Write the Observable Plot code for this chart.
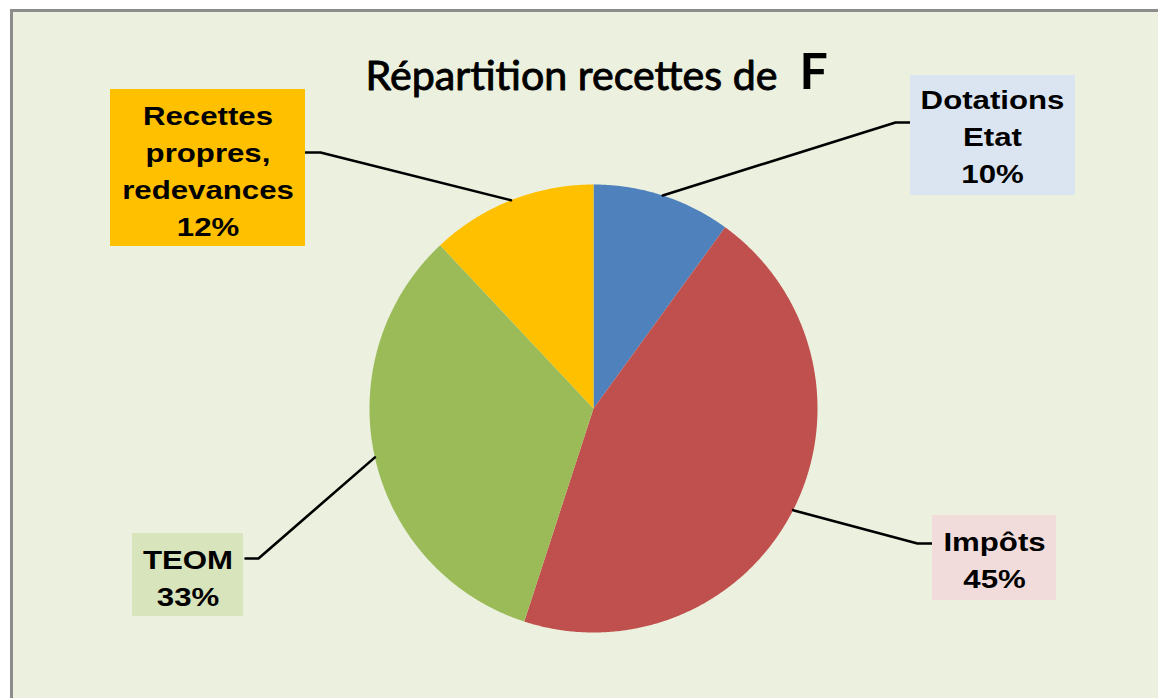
<!DOCTYPE html>
<html><head><meta charset="utf-8">
<script src="https://cdn.jsdelivr.net/npm/d3@7"></script>
<script src="https://cdn.jsdelivr.net/npm/@observablehq/plot@0.6"></script>
<style>
html,body{margin:0;padding:0;background:#fff;}
#wrap{position:relative;width:1158px;height:698px;overflow:hidden;}
#frame{position:absolute;left:10px;top:9px;width:1200px;height:750px;background:#EBF1DE;border-left:3px solid #8c8c8c;border-top:3px solid #8c8c8c;}
#chart{position:absolute;left:0;top:0;}
</style></head><body>
<div id="wrap"><div id="frame"></div><div id="chart"></div></div>
<script>
// ---- data ----
const categories = ["Dotations Etat", "Impôts", "TEOM", "Recettes propres, redevances"];
const labelNames = ["Dotations\nEtat", "Impôts", "TEOM", "Recettes\npropres,\nredevances"];
const values = [10, 45, 33, 12];
const titleMain = "Répartition recettes de";
const titleEnd = "F";

// ---- styles / layout ----
const sliceColors = ["#4F81BD", "#C0504D", "#9BBB59", "#FFC000"];
const boxColors = ["#DBE5F1", "#F2DCDB", "#D7E4BC", "#FFC000"];
const pie = {cx: 593, cy: 408, r: 224};
const boxes = [
  {x1: 910, x2: 1075, y1: 75, y2: 195, tx: 992, ty: 182, ex: 895, ey: 122, lx: 910},
  {x1: 932, x2: 1056, y1: 515, y2: 600, tx: 994, ty: 587, ex: 917, ey: 543, lx: 932},
  {x1: 132, x2: 243, y1: 533, y2: 616, tx: 187.5, ty: 605, ex: 258, ey: 558, lx: 245},
  {x1: 110, x2: 305, y1: 89, y2: 246, tx: 207.5, ty: 235, ex: 320, ey: 152, lx: 305}
];

// ---- build ----
const arcs = d3.pie().sort(null).startAngle(0).endAngle(2 * Math.PI)(values);
const pt = (a, rr) => ({x: pie.cx + rr * Math.sin(a), y: pie.cy - rr * Math.cos(a)});
const slicePts = [];
arcs.forEach((a, i) => {
  const name = categories[i];
  slicePts.push({name, ...pt(0, 0)});
  const steps = Math.max(2, Math.ceil((a.endAngle - a.startAngle) / 0.005));
  for (let k = 0; k <= steps; k++) {
    const ang = a.startAngle + (a.endAngle - a.startAngle) * k / steps;
    slicePts.push({name, ...pt(ang, pie.r)});
  }
  slicePts.push({name, ...pt(0, 0)});
});
const leaderPts = [];
arcs.forEach((a, i) => {
  const mid = (a.startAngle + a.endAngle) / 2;
  const b = boxes[i];
  const name = categories[i];
  leaderPts.push({name, ...pt(mid, pie.r)});
  leaderPts.push({name, x: b.ex, y: b.ey});
  leaderPts.push({name, x: b.lx, y: b.ey});
});
const labels = categories.map((c, i) => ({
  name: c, fill: boxColors[i], ...boxes[i],
  text: labelNames[i] + "\n" + values[i] + "%"
}));

const chart = Plot.plot({
  width: 1158, height: 698,
  margin: 0,
  style: {background: "none", overflow: "visible"},
  x: {domain: [0, 1158], range: [0, 1158], axis: null},
  y: {domain: [0, 698], range: [0, 698], axis: null},
  color: {domain: categories, range: sliceColors},
  marks: [
    Plot.line(slicePts, {x: "x", y: "y", z: "name", fill: "name", stroke: "none", curve: "linear"}),
    Plot.line(leaderPts, {x: "x", y: "y", z: "name", stroke: "#000", strokeWidth: 2.6, curve: "linear"}),
    Plot.rect(labels, {x1: "x1", x2: "x2", y1: "y1", y2: "y2", fill: d => d.fill}),
    Plot.text(labels, {x: "tx", y: "ty", text: "text", lineAnchor: "bottom", textAnchor: "middle",
      fontSize: 26, lineHeight: 1.42, fontWeight: "bold", fontFamily: "Liberation Sans, Arial, sans-serif",
      fill: "#000"}),
    Plot.text([titleMain], {x: 365, y: 89, text: d => d, lineAnchor: "bottom", textAnchor: "start",
      fontSize: 40, fontFamily: "Lato, 'Open Sans', sans-serif", fill: "#000", stroke: "#000", strokeWidth: 0.9}),
    Plot.text([titleEnd], {x: 799, y: 88, text: d => d, lineAnchor: "bottom", textAnchor: "start",
      fontSize: 50, fontWeight: "bold", fontFamily: "Lato, 'Open Sans', sans-serif", fill: "#000"})
  ]
});
document.getElementById("chart").appendChild(chart);

const textGroups = chart.querySelectorAll('g[aria-label="text"]');
// horizontal stretch of the label glyphs, as in the original
textGroups[0].querySelectorAll("text").forEach(t => {
  t.setAttribute("transform", (t.getAttribute("transform") || "") + " scale(1.2,1)");
});
textGroups[1].querySelectorAll("text").forEach(t => {
  t.setAttribute("textLength", 412);
  t.setAttribute("lengthAdjust", "spacingAndGlyphs");
});
</script>
</body></html>
